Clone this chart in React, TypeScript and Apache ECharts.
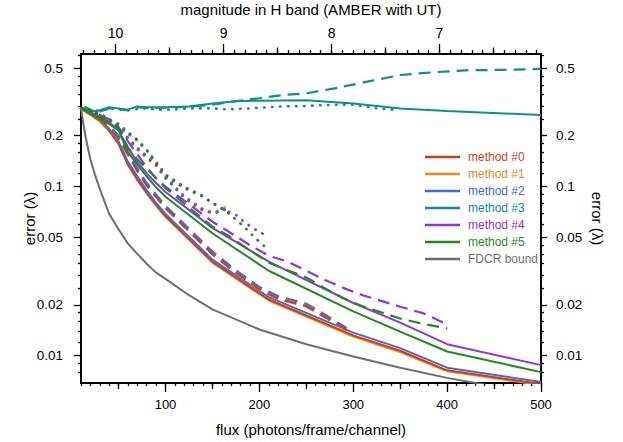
import React, { useEffect, useRef } from "react";
import * as echarts from "echarts";

// ---------- axes ----------
const FLUX_MIN = 10;
const FLUX_MAX = 500;
const ERR_MIN = 0.0069;
const ERR_MAX = 0.608;
const MAG_MIN = 6.06;
const MAG_MAX = 10.32;

const fluxMajorTicks = [100, 200, 300, 400, 500];
const fluxMidTicks = [50, 150, 250, 350, 450];
const fluxMinorTicks = [10, 20, 30, 40, 50, 60, 70, 80, 90, 100, 110, 120, 130, 140, 150, 160, 170, 180, 190, 200, 210, 220, 230, 240, 250, 260, 270, 280, 290, 300, 310, 320, 330, 340, 350, 360, 370, 380, 390, 400, 410, 420, 430, 440, 450, 460, 470, 480, 490, 500];
const errMajorTicks = [0.01, 0.02, 0.05, 0.1, 0.2, 0.5];
const errMinorTicks = [0.008, 0.009, 0.012, 0.014, 0.016, 0.018, 0.025, 0.03, 0.035, 0.04, 0.045, 0.06, 0.07, 0.08, 0.09, 0.12, 0.14, 0.16, 0.18, 0.25, 0.3, 0.35, 0.4, 0.45, 0.6];
const magMajorTicks = [7, 8, 9, 10];
const magMidTicks = [6.5, 7.5, 8.5, 9.5];
const magMinorTicks = [6.1, 6.2, 6.3, 6.4, 6.5, 6.6, 6.7, 6.8, 6.9, 7, 7.1, 7.2, 7.3, 7.4, 7.5, 7.6, 7.7, 7.8, 7.9, 8, 8.1, 8.2, 8.3, 8.4, 8.5, 8.6, 8.7, 8.8, 8.9, 9, 9.1, 9.2, 9.3, 9.4, 9.5, 9.6, 9.7, 9.8, 9.9, 10, 10.1, 10.2, 10.3];

// ---------- data ----------
const fluxSolid = [10, 20, 30, 40, 50, 60, 70, 80, 90, 100, 150, 210, 300, 350, 400, 500];
const m0Solid = [0.29, 0.268, 0.245, 0.215, 0.18, 0.135, 0.11, 0.092, 0.078, 0.067, 0.036, 0.0215, 0.0132, 0.0107, 0.0082, 0.0068];
const m1Solid = [0.29, 0.266, 0.243, 0.213, 0.178, 0.134, 0.109, 0.091, 0.077, 0.066, 0.0355, 0.0212, 0.013, 0.0105, 0.0081, 0.0067];
const m2Solid = [0.29, 0.27, 0.25, 0.22, 0.185, 0.14, 0.115, 0.095, 0.08, 0.069, 0.037, 0.0222, 0.0137, 0.0111, 0.0085, 0.007];
const m4Solid = [0.29, 0.275, 0.26, 0.24, 0.215, 0.17, 0.14, 0.12, 0.105, 0.093, 0.057, 0.036, 0.0205, 0.0157, 0.0117, 0.0088];
const m5Solid = [0.29, 0.27, 0.255, 0.235, 0.215, 0.16, 0.135, 0.115, 0.099, 0.087, 0.053, 0.0318, 0.0183, 0.0139, 0.0106, 0.008];

const fluxDashA = [10, 20, 30, 40, 50, 60, 70, 80, 100, 150, 175, 200, 220, 250, 270, 293];
const m0Dash = [0.29, 0.268, 0.248, 0.223, 0.194, 0.155, 0.124, 0.102, 0.075, 0.04, 0.031, 0.0247, 0.0218, 0.0197, 0.017, 0.0142];
const m1Dash = [0.29, 0.266, 0.246, 0.221, 0.192, 0.154, 0.123, 0.101, 0.074, 0.0397, 0.0307, 0.0245, 0.0216, 0.0195, 0.0168, 0.0141];
const m2Dash = [0.29, 0.275, 0.255, 0.23, 0.2, 0.16, 0.128, 0.105, 0.077, 0.0413, 0.032, 0.0255, 0.0225, 0.0203, 0.0175, 0.0146];

const fluxDashB = [10, 20, 30, 40, 50, 60, 70, 80, 90, 100, 150, 170, 190, 210, 230, 250, 270, 290, 310, 350, 375, 400];
const m4Dash = [0.29, 0.28, 0.265, 0.25, 0.225, 0.185, 0.155, 0.13, 0.112, 0.1, 0.062, 0.053, 0.045, 0.039, 0.036, 0.0318, 0.028, 0.0251, 0.0228, 0.0195, 0.0178, 0.0153];
const m5Dash = [0.29, 0.28, 0.26, 0.24, 0.22, 0.17, 0.145, 0.128, 0.112, 0.098, 0.058, 0.05, 0.042, 0.0355, 0.032, 0.029, 0.025, 0.0218, 0.0196, 0.0166, 0.0154, 0.0145];

const fluxDotA = [10, 20, 30, 40, 50, 60, 70, 80, 90, 100, 110, 120, 130, 140, 150, 160, 166];
const m0Dot = [0.29, 0.283, 0.267, 0.246, 0.22, 0.19, 0.166, 0.148, 0.133, 0.112, 0.098, 0.086, 0.078, 0.072, 0.0695, 0.0715, 0.0765];
const m1Dot = [0.29, 0.284, 0.268, 0.248, 0.222, 0.192, 0.168, 0.15, 0.135, 0.113, 0.099, 0.087, 0.079, 0.073, 0.0705, 0.073, 0.078];
const m2Dot = [0.29, 0.285, 0.27, 0.25, 0.225, 0.195, 0.17, 0.152, 0.137, 0.115, 0.1, 0.088, 0.08, 0.0735, 0.07, 0.071, 0.075];

const fluxDotB = [10, 20, 30, 40, 50, 60, 70, 80, 90, 100, 120, 140, 150, 165, 175, 185, 195, 208];
const m4Dot = [0.29, 0.283, 0.27, 0.25, 0.235, 0.21, 0.19, 0.165, 0.14, 0.118, 0.1, 0.088, 0.08, 0.072, 0.068, 0.061, 0.056, 0.051];
const m5Dot = [0.29, 0.28, 0.265, 0.245, 0.23, 0.205, 0.187, 0.163, 0.137, 0.115, 0.098, 0.087, 0.08, 0.071, 0.064, 0.057, 0.05, 0.043];

const fluxTealSolid = [10, 15, 20, 25, 30, 40, 50, 60, 70, 80, 100, 125, 150, 175, 200, 250, 300, 350, 400, 500];
const m3Solid = [0.29, 0.295, 0.285, 0.278, 0.283, 0.295, 0.29, 0.285, 0.298, 0.295, 0.295, 0.298, 0.31, 0.32, 0.322, 0.324, 0.31, 0.29, 0.28, 0.265];
const fluxTealDash = [10, 20, 30, 40, 50, 60, 70, 80, 100, 125, 150, 175, 200, 225, 250, 280, 315, 350, 385, 420, 460, 500];
const m3Dash = [0.29, 0.28, 0.278, 0.29, 0.288, 0.282, 0.295, 0.292, 0.293, 0.296, 0.305, 0.32, 0.333, 0.348, 0.356, 0.381, 0.417, 0.457, 0.474, 0.487, 0.49, 0.496];
const fluxTealDot = [10, 20, 30, 40, 50, 60, 75, 100, 125, 150, 165, 190, 220, 250, 280, 300, 325, 345];
const m3Dot = [0.29, 0.285, 0.28, 0.29, 0.285, 0.283, 0.29, 0.284, 0.29, 0.29, 0.286, 0.29, 0.297, 0.3, 0.305, 0.305, 0.29, 0.284];

const fluxFdcr = [10, 12, 15, 20, 25, 30, 40, 50, 60, 70, 80, 90, 100, 125, 150, 200, 250, 300, 350, 400, 450, 500];
const fdcrBound = [0.29, 0.245, 0.195, 0.145, 0.117, 0.097, 0.069, 0.056, 0.046, 0.04, 0.035, 0.031, 0.0285, 0.0228, 0.0188, 0.0143, 0.0117, 0.0099, 0.0085, 0.0074, 0.0066, 0.006];

const legendNames = ["method #0", "method #1", "method #2", "method #3", "method #4", "method #5", "FDCR bound"];
const colors = ["#cf3f10", "#f7861a", "#4169e1", "#0e8f8c", "#9033e8", "#1c8c1c", "#6e6e6e"];

const FONT = "'Liberation Sans', Arial, Helvetica, sans-serif";

function line(name: string, xs: number[], ys: number[], color: string, kind: "solid" | "dash" | "dot") {
  const lineStyle: any = { color, width: 2, type: "solid" };
  if (kind === "dash") {
    lineStyle.type = [12, 7];
    lineStyle.width = 2.2;
  } else if (kind === "dot") {
    lineStyle.type = [0.5, 7.5];
    lineStyle.width = 2.6;
    lineStyle.cap = "round";
  }
  return {
    type: "line",
    name,
    data: xs.map((x, i) => [x, ys[i]]),
    xAxisIndex: 0,
    yAxisIndex: 0,
    symbol: "none",
    showSymbol: false,
    smooth: false,
    silent: true,
    lineStyle,
    itemStyle: { color },
  };
}

const log10 = (v: number) => Math.log10(v);
const fmtErr = (v: number) => String(parseFloat(Math.pow(10, v).toPrecision(2)));

function tickAxisX(pos: "bottom" | "top", min: number, max: number, inverse: boolean, ticks: number[], len: number, showLine: boolean, labels: number[] | null, extra: any = {}) {
  return {
    type: "value",
    gridIndex: 0,
    position: pos,
    min,
    max,
    inverse,
    axisLine: { show: showLine, onZero: false, lineStyle: { color: "#000", width: 2 } },
    axisTick: { show: true, inside: false, customValues: ticks, length: len, lineStyle: { color: "#000", width: 1.3 } },
    axisLabel: labels
      ? { show: true, customValues: labels, margin: pos === "bottom" ? 15 : 14, fontSize: pos === "bottom" ? 13 : 14, color: "#000", fontFamily: FONT }
      : { show: false },
    splitLine: { show: false },
    ...extra,
  };
}

function tickAxisY(pos: "left" | "right", ticks: number[], len: number, showLine: boolean, labels: number[] | null, extra: any = {}) {
  return {
    type: "value",
    gridIndex: 0,
    position: pos,
    min: log10(ERR_MIN),
    max: log10(ERR_MAX),
    axisLine: { show: showLine, onZero: false, lineStyle: { color: "#000", width: 2 } },
    axisTick: { show: true, inside: false, customValues: ticks.map(log10), length: len, lineStyle: { color: "#000", width: 1.3 } },
    axisLabel: labels
      ? { show: true, customValues: labels.map(log10), formatter: fmtErr, margin: pos === "left" ? 18 : 15, fontSize: 13.5, color: "#000", fontFamily: FONT }
      : { show: false },
    splitLine: { show: false },
    ...extra,
  };
}

export default function App() {
  const ref = useRef<HTMLDivElement>(null);
  useEffect(() => {
    document.body.style.margin = "0";
    const chart = echarts.init(ref.current!, null, { renderer: "svg" });

    const series: any[] = [
      line("method #1", fluxSolid, m1Solid, colors[1], "solid"),
      line("method #0", fluxSolid, m0Solid, colors[0], "solid"),
      line("method #2", fluxSolid, m2Solid, colors[2], "solid"),
      line("method #1 dashed", fluxDashA, m1Dash, colors[1], "dash"),
      line("method #0 dashed", fluxDashA, m0Dash, colors[0], "dash"),
      line("method #2 dashed", fluxDashA, m2Dash, colors[2], "dash"),
      line("method #1 dotted", fluxDotA, m1Dot, colors[1], "dot"),
      line("method #0 dotted", fluxDotA, m0Dot, colors[0], "dot"),
      line("method #2 dotted", fluxDotA, m2Dot, colors[2], "dot"),
      line("method #3", fluxTealSolid, m3Solid, colors[3], "solid"),
      line("method #3 dashed", fluxTealDash, m3Dash, colors[3], "dash"),
      line("method #3 dotted", fluxTealDot, m3Dot, colors[3], "dot"),
      line("method #4", fluxSolid, m4Solid, colors[4], "solid"),
      line("method #4 dashed", fluxDashB, m4Dash, colors[4], "dash"),
      line("method #4 dotted", fluxDotB, m4Dot, colors[4], "dot"),
      line("method #5", fluxSolid, m5Solid, colors[5], "solid"),
      line("method #5 dashed", fluxDashB, m5Dash, colors[5], "dash"),
      line("method #5 dotted", fluxDotB, m5Dot, colors[5], "dot"),
      line("FDCR bound", fluxFdcr, fdcrBound, colors[6], "solid"),
    ];

    const option: any = {
      animation: false,
      backgroundColor: "#fff",
      textStyle: { fontFamily: FONT },
      grid: { left: 81, right: 82, top: 54, bottom: 59, containLabel: false, outerBoundsMode: "none" },
      legend: {
        orient: "vertical",
        left: 425,
        top: 150,
        padding: 0,
        icon: "rect",
        itemWidth: 35,
        itemHeight: 2.5,
        itemGap: 3,
        selectedMode: false,
        textStyle: { fontSize: 12, fontFamily: FONT, lineHeight: 14, padding: [0, 0, 0, 3] },
        data: legendNames.map((n, i) => ({
          name: n,
          icon: "rect",
          itemStyle: { color: colors[i] },
          textStyle: { color: colors[i], fontSize: 12, fontFamily: FONT, lineHeight: 14 },
        })),
      },
      xAxis: [
        tickAxisX("bottom", FLUX_MIN, FLUX_MAX, false, fluxMajorTicks, 9, true, fluxMajorTicks, {
          name: "flux (photons/frame/channel)",
          nameLocation: "middle",
          nameGap: 39,
          nameMoveOverlap: false,
          nameTextStyle: { fontSize: 15, color: "#000", fontFamily: FONT },
        }),
        tickAxisX("bottom", FLUX_MIN, FLUX_MAX, false, fluxMidTicks, 6, false, null),
        tickAxisX("bottom", FLUX_MIN, FLUX_MAX, false, fluxMinorTicks, 3, false, null),
        tickAxisX("top", MAG_MIN, MAG_MAX, true, magMajorTicks, 10, true, magMajorTicks, {
          name: "magnitude in H band (AMBER with UT)",
          nameLocation: "middle",
          nameGap: 37,
          nameMoveOverlap: false,
          nameTextStyle: { fontSize: 15, color: "#000", fontFamily: FONT },
        }),
        tickAxisX("top", MAG_MIN, MAG_MAX, true, magMidTicks, 6.5, false, null),
        tickAxisX("top", MAG_MIN, MAG_MAX, true, magMinorTicks, 4, false, null),
      ],
      yAxis: [
        {
          type: "log",
          gridIndex: 0,
          min: ERR_MIN,
          max: ERR_MAX,
          logBase: 10,
          show: true,
          axisLine: { show: false },
          axisTick: { show: false },
          axisLabel: { show: false },
          splitLine: { show: false },
          minorTick: { show: false },
        },
        tickAxisY("left", errMajorTicks, 7, true, errMajorTicks, {
          name: "error (λ)",
          nameLocation: "middle",
          nameGap: 44,
          nameMoveOverlap: false,
          nameTextStyle: { fontSize: 15, color: "#000", fontFamily: FONT },
        }),
        tickAxisY("left", errMinorTicks, 3, false, null),
        tickAxisY("right", errMajorTicks, 6, true, errMajorTicks, {
          name: "error (λ)",
          nameLocation: "middle",
          nameGap: 49,
          nameRotate: -90,
          nameMoveOverlap: false,
          nameTextStyle: { fontSize: 15, color: "#000", fontFamily: FONT },
        }),
        tickAxisY("right", errMinorTicks, 3, false, null),
      ],
      series,
    };
    chart.setOption(option);
    return () => chart.dispose();
  }, []);
  return <div ref={ref} style={{ width: 623, height: 442 }} />;
}
